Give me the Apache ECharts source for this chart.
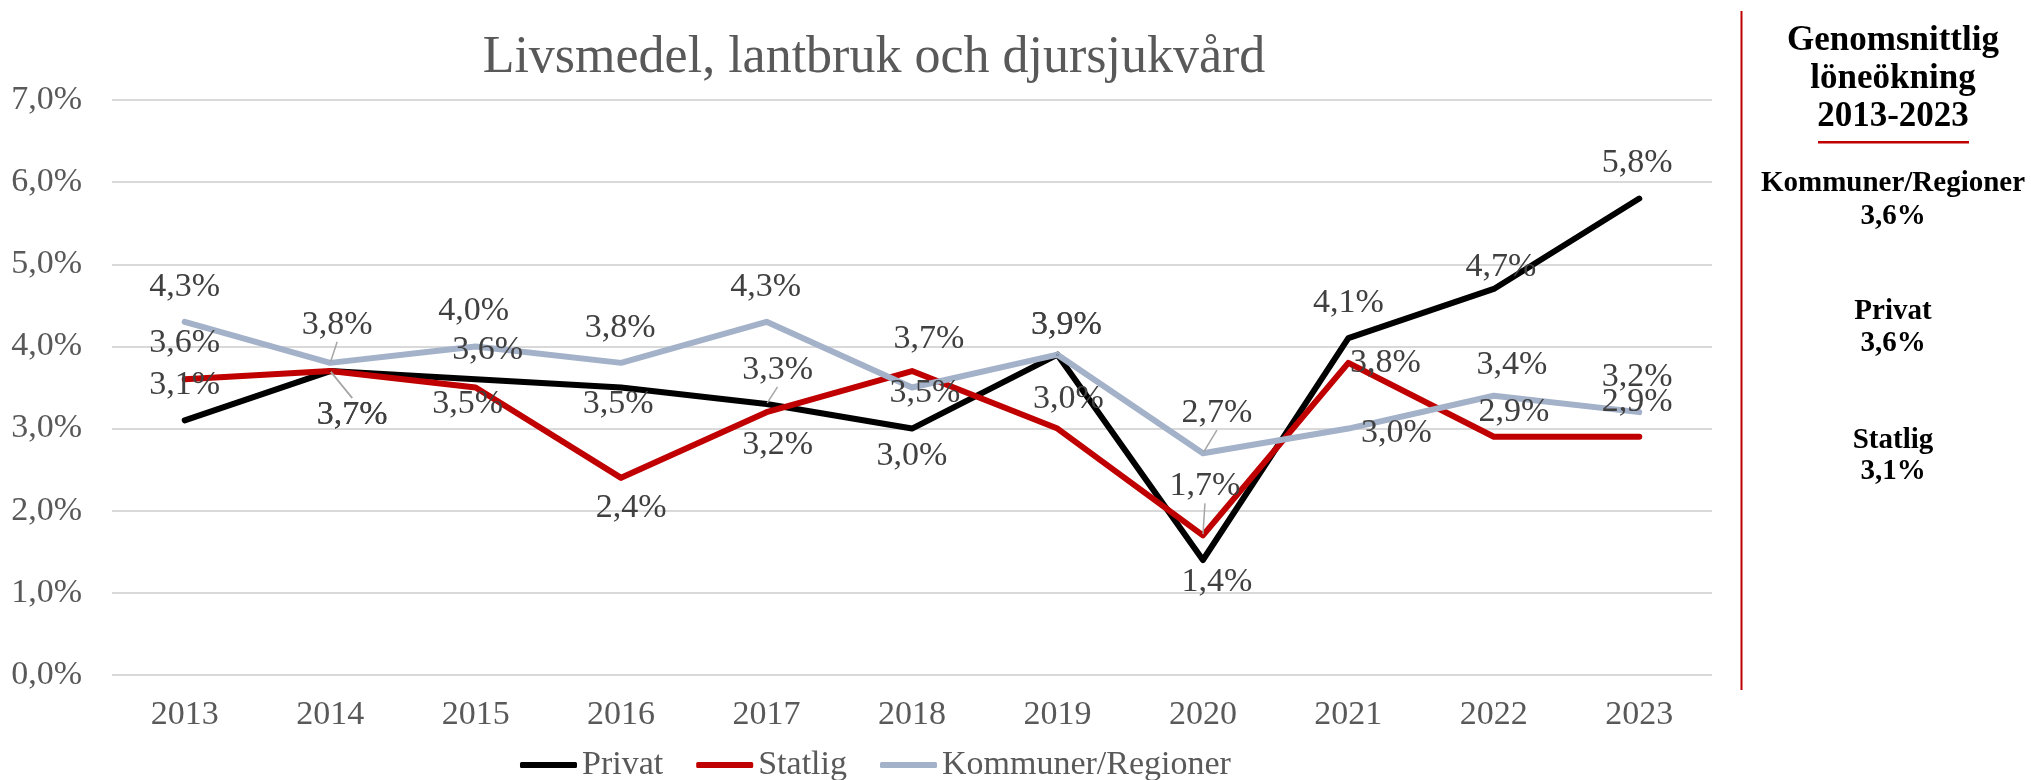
<!DOCTYPE html>
<html>
<head>
<meta charset="utf-8">
<script src="https://cdn.jsdelivr.net/npm/echarts@6/dist/echarts.min.js"></script>
<style>
  html, body { margin: 0; padding: 0; background: #fff; }
  #chart { width: 2031px; height: 780px; }
</style>
</head>
<body>
<div id="chart"></div>
<script>
// data
var years = ['2013', '2014', '2015', '2016', '2017', '2018', '2019', '2020', '2021', '2022', '2023'];
var privat = [3.1, 3.7, 3.6, 3.5, 3.3, 3.0, 3.9, 1.4, 4.1, 4.7, 5.8];
var statlig = [3.6, 3.7, 3.5, 2.4, 3.2, 3.7, 3.0, 1.7, 3.8, 2.9, 2.9];
var kommuner = [4.3, 3.8, 4.0, 3.8, 4.3, 3.5, 3.9, 2.7, 3.0, 3.4, 3.2];
var yTicks = [0, 1, 2, 3, 4, 5, 6, 7];
var snitt = { kommuner: '3,6%', privat: '3,6%', statlig: '3,1%' };

// label placement (pixel shift from the point), like the hand-moved labels in the original
var shiftPrivat = [[0, -35], [22, 44], [12, -29], [-3, 17], [11, -34], [0, 28], [9, -30], [14, 22], [0, -35], [7, -22], [-2, -35]];
var shiftStatlig = [[0, -36], [22, 44], [-8, 17], [10, 30], [11, 33], [17, -32], [11, -29], [2, -49], [37, 0], [20, -25], [-2, -35]];
var shiftKommuner = [[0, -35], [7, -38], [-2, -35], [-1, -35], [-1, -35], [13, 6], [9, -30], [14, -40], [48, 5], [18, -31], [-2, -35]];
var leaders = { Privat: [1, 4], Statlig: [1, 7], 'Kommuner/Regioner': [1, 7] };

var serif = '"Liberation Serif", "DejaVu Serif", serif';

function pct(v) {
    return v.toFixed(1).replace('.', ',') + '%';
}

function makeSeries(name, values, color, shifts) {
    return {
        name: name,
        type: 'line',
        data: values.map(function (v, i) {
            var item = { value: v };
            if (leaders[name].indexOf(i) >= 0) {
                item.labelLine = { show: true };
            }
            return item;
        }),
        symbol: 'circle',
        symbolSize: 2,
        showSymbol: true,
        showAllSymbol: true,
        color: color,
        lineStyle: { width: 6, color: color, cap: 'round', join: 'round' },
        itemStyle: { color: color },
        emphasis: { disabled: true },
        label: {
            show: true,
            position: 'inside',
            formatter: function (p) { return pct(p.value); },
            fontFamily: serif,
            fontSize: 34,
            color: '#404040'
        },
        labelLine: {
            show: false,
            lineStyle: { color: '#A6A6A6', width: 1.5 }
        },
        labelLayout: function (p) {
            var s = shifts[p.dataIndex];
            return { dx: s[0], dy: s[1] };
        }
    };
}

var chart = echarts.init(document.getElementById('chart'));
var option = {
    backgroundColor: '#ffffff',
    animation: false,
    title: {
        text: 'Livsmedel, lantbruk och djursjukvård',
        left: 874,
        top: 32,
        padding: 0,
        textAlign: 'center',
        textStyle: {
            fontFamily: serif,
            fontSize: 52,
            fontWeight: 'normal',
            color: '#595959'
        }
    },
    grid: {
        left: 112,
        right: 319,
        top: 100,
        bottom: 105
    },
    legend: {
        data: ['Privat', 'Statlig', 'Kommuner/Regioner'],
        left: 520,
        top: 748,
        padding: 0,
        icon: 'roundRect',
        itemWidth: 57,
        itemHeight: 6,
        itemGap: 33,
        textStyle: {
            fontFamily: serif,
            fontSize: 34,
            color: '#595959'
        }
    },
    xAxis: {
        type: 'category',
        data: years,
        boundaryGap: true,
        axisLine: { show: false },
        axisTick: { show: false },
        axisLabel: {
            margin: 23,
            fontFamily: serif,
            fontSize: 34,
            color: '#595959'
        }
    },
    yAxis: {
        type: 'value',
        min: yTicks[0],
        max: yTicks[yTicks.length - 1],
        interval: 1,
        axisLine: { show: false },
        axisTick: { show: false },
        axisLabel: {
            margin: 30,
            fontFamily: serif,
            fontSize: 34,
            color: '#595959',
            formatter: function (v) { return pct(v); }
        },
        splitLine: {
            lineStyle: { color: '#D9D9D9', width: 2 }
        }
    },
    series: [
        makeSeries('Privat', privat, '#000000', shiftPrivat),
        makeSeries('Statlig', statlig, '#C00000', shiftStatlig),
        makeSeries('Kommuner/Regioner', kommuner, '#A3B1C9', shiftKommuner)
    ],
    graphic: [
        // red divider
        { type: 'rect', shape: { x: 1740.5, y: 11, width: 2, height: 679 }, style: { fill: '#C00000' } },
        // side panel with averages
        { type: 'text', x: 1893, y: 41, style: { text: 'Genomsnittlig', font: 'bold 35px ' + serif, fill: '#000', textAlign: 'center', textVerticalAlign: 'middle' } },
        { type: 'text', x: 1893, y: 79, style: { text: 'löneökning', font: 'bold 35px ' + serif, fill: '#000', textAlign: 'center', textVerticalAlign: 'middle' } },
        { type: 'text', x: 1893, y: 117, style: { text: '2013-2023', font: 'bold 35px ' + serif, fill: '#000', textAlign: 'center', textVerticalAlign: 'middle' } },
        { type: 'rect', shape: { x: 1818, y: 141, width: 151, height: 2.5 }, style: { fill: '#C00000' } },
        { type: 'text', x: 1893, y: 184, style: { text: 'Kommuner/Regioner', font: 'bold 29px ' + serif, fill: '#000', textAlign: 'center', textVerticalAlign: 'middle' } },
        { type: 'text', x: 1893, y: 217, style: { text: snitt.kommuner, font: 'bold 29px ' + serif, fill: '#000', textAlign: 'center', textVerticalAlign: 'middle' } },
        { type: 'text', x: 1893, y: 312, style: { text: 'Privat', font: 'bold 29px ' + serif, fill: '#000', textAlign: 'center', textVerticalAlign: 'middle' } },
        { type: 'text', x: 1893, y: 344, style: { text: snitt.privat, font: 'bold 29px ' + serif, fill: '#000', textAlign: 'center', textVerticalAlign: 'middle' } },
        { type: 'text', x: 1893, y: 441, style: { text: 'Statlig', font: 'bold 29px ' + serif, fill: '#000', textAlign: 'center', textVerticalAlign: 'middle' } },
        { type: 'text', x: 1893, y: 472, style: { text: snitt.statlig, font: 'bold 29px ' + serif, fill: '#000', textAlign: 'center', textVerticalAlign: 'middle' } }
    ]
};
chart.setOption(option);
</script>
</body>
</html>
